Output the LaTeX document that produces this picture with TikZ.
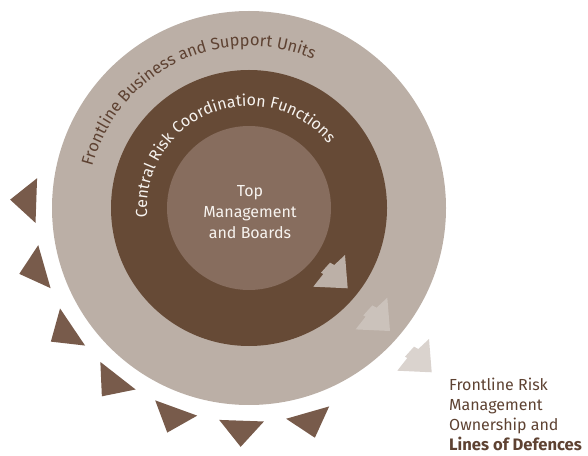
\documentclass[tikz,border=0pt]{standalone}
\usepackage{fontspec}
\setmainfont{Fira Sans}
\usetikzlibrary{calc,decorations.text}

\definecolor{outerring}{HTML}{BBAFA6}
\definecolor{midring}{HTML}{664A36}
\definecolor{innerdisc}{HTML}{876D5E}
\definecolor{toothbrown}{HTML}{785B4B}
\definecolor{ringtext}{HTML}{5E4232}
\definecolor{lighttext}{HTML}{F7F3EF}
\definecolor{arrowa}{HTML}{BCB0A7}
\definecolor{arrowb}{HTML}{CBC2BB}
\definecolor{arrowc}{HTML}{DAD3CE}

\begin{document}
\begin{tikzpicture}[x=1pt,y=1pt,
    tooth/.style={fill=toothbrown},
    pointer/.style={fill=#1}]
    \useasboundingbox (0,0) rectangle (588,455);
    \def\ro{197pt}\def\rm{138pt}\def\ri{82pt}
    \coordinate (c) at (249,247);
    \def\points{
      \coordinate (a1) at (347.7,166.7);
      \coordinate (a2) at (390,124);
      \coordinate (a3) at (431.7,82.7);
    }
    \def\blockArrow#1#2{
      \fill[pointer=#1, shift={(#2)}] (0,0) -- (-2.7,33.3) -- (-13.4,23.3)
        -- (-17.7,25.6) -- (-26.7,15.6) -- (-24.4,14.3) -- (-34.4,1.6) -- cycle;
    }
    \points
    % Draw rings
    \fill[outerring] (c) circle (\ro);
    \fill[midring] (c) circle (\rm);
    \fill[innerdisc] (c) circle (\ri);
    % Draw teeth round the outer ring
    \foreach \k in {0,...,6} {
      \pgfmathsetmacro\a{178+18*\k}
      \fill[tooth] ($(c)+(\a-6:214pt)$) -- ($(c)+(\a:239pt)$) -- ($(c)+(\a+6:214pt)$) -- cycle;
    }
    % Draw fading arrows
    \blockArrow{arrowa}{a1}
    \blockArrow{arrowb}{a2}
    \blockArrow{arrowc}{a3}
    % Ring labels
    \path[decorate, decoration={text along path, text align=center,
        text={|\fontsize{16.5}{16.5}\selectfont\color{ringtext}|Frontline Business and Support Units}}]
      ($(c)+(201:162pt)$) arc[start angle=201, end angle=31, radius=162pt];
    \path[decorate, decoration={text along path, text align=center,
        text={|\fontsize{16}{16}\selectfont\color{lighttext}|Central Risk Coordination Functions}}]
      ($(c)+(197:102pt)$) arc[start angle=197, end angle=27, radius=102pt];
    \node[align=center, text=lighttext, font=\fontsize{16}{21}\selectfont] (topmgmt)
      at (250,243) {Top\\Management\\and Boards};
    \node[align=left, text=ringtext, font=\fontsize{16}{20}\selectfont, anchor=north west,
      inner sep=0pt] (legend) at (449,77)
      {Frontline Risk\\Management\\Ownership and\\\textbf{\fontsize{16.6}{20}\selectfont Lines of Defences}};
\end{tikzpicture}
\end{document}
